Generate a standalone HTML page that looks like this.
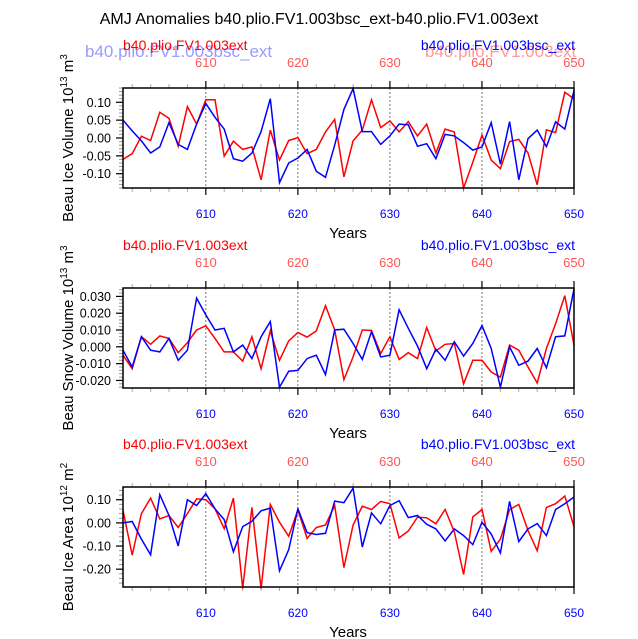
<!DOCTYPE html>
<html><head><meta charset="utf-8"><style>
html,body{margin:0;padding:0;background:#fff;}
svg{display:block;font-family:"Liberation Sans",Helvetica,Arial,sans-serif;}
</style></head><body>
<svg id="chart" width="638" height="639" viewBox="0 0 638 639" xmlns="http://www.w3.org/2000/svg">
<text x="319" y="24" text-anchor="middle" font-size="16">AMJ Anomalies b40.plio.FV1.003bsc_ext-b40.plio.FV1.003ext</text>
</svg>
<script>
const years = Array.from({length:50},(_,i)=>601+i);
const iceVolBlue=[0.05,0.02,-0.008,-0.042,-0.025,0.043,-0.018,-0.032,0.039,0.097,0.058,0.025,-0.058,-0.065,-0.042,0.018,0.11,-0.125,-0.07,-0.056,-0.032,-0.093,-0.11,-0.02,0.08,0.138,0.018,0.018,-0.018,0.006,0.039,0.037,-0.023,-0.016,-0.058,0.01,0.006,-0.013,-0.034,-0.025,0.043,-0.073,0.046,-0.117,-0.002,0.022,-0.024,0.045,0.025,0.133];
const iceVolRed=[-0.06,-0.044,0.005,-0.007,0.072,0.055,-0.023,0.088,0.039,0.107,0.107,-0.051,-0.009,-0.032,-0.025,-0.117,0.022,-0.062,-0.007,0.001,-0.044,-0.032,0.017,0.052,-0.109,-0.008,0.022,0.107,0.029,0.048,0.017,0.046,0.006,0.039,-0.042,0.025,0.017,-0.14,-0.068,0.008,-0.062,-0.086,-0.01,-0.004,-0.042,-0.131,0.023,0.015,0.128,0.11];
const snowBlue=[-0.002,-0.012,0.006,-0.002,-0.003,0.005,-0.008,-0.002,0.029,0.019,0.01,0.011,-0.003,0.001,-0.007,0.006,0.015,-0.024,-0.0145,-0.014,-0.007,-0.005,-0.0165,0.01,0.0105,0.002,-0.0075,0.009,-0.006,-0.005,0.022,0.011,0.0005,-0.013,-0.0015,-0.008,0.003,-0.0055,0.002,0.0127,-0.001,-0.024,0,-0.011,-0.0085,-0.001,-0.0125,0.006,0.0065,0.0345];
const snowRed=[-0.005,-0.013,0.006,0.0015,0.0065,0.005,-0.0035,0.0025,0.01,0.0125,0.005,-0.003,-0.003,-0.0085,0.006,-0.013,0.0095,-0.008,0.0035,0.0085,0.0058,0.0095,0.0245,0.01,-0.0195,-0.006,0.01,0.0097,-0.004,0.006,-0.0075,-0.0035,-0.007,0.0115,-0.0025,0.0015,0.002,-0.022,-0.008,-0.008,-0.015,-0.018,0.001,-0.002,-0.012,-0.0215,-0.001,0.0137,0.0305,0.001];
const areaBlue=[0,0.006,-0.07,-0.138,0.122,0.032,-0.1,0.1,0.075,0.126,0.061,0.014,-0.125,-0.016,0.007,0.052,0.064,-0.207,-0.116,0.061,-0.042,-0.05,-0.045,0.094,0.087,0.15,-0.104,0.043,-0.004,0.075,0.096,0.023,0.032,-0.006,-0.026,-0.078,-0.026,-0.055,-0.094,0.003,-0.048,-0.13,0.093,-0.081,-0.026,-0.003,-0.055,0.058,0.083,0.112];
const areaRed=[0.054,-0.139,0.04,0.107,0.017,0.032,-0.02,0.04,0.104,0.1,0.061,-0.025,0.107,-0.284,0.067,-0.284,0.08,0.003,-0.058,0.056,-0.067,-0.02,-0.009,0.075,-0.193,-0.009,0.072,0.058,0.093,0.083,-0.065,-0.035,0.025,0.022,-0.004,0.058,-0.038,-0.223,0.026,0.058,-0.123,-0.07,0.058,0.08,-0.033,-0.12,0.067,0.083,0.116,-0.016];
const xTicks=[610,620,630,640,650];
const iceVolTicks=["0.10","0.05","0.00","-0.05","-0.10"];
const snowTicks=["0.030","0.020","0.010","0.000","-0.010","-0.020"];
const areaTicks=["0.10","0.00","-0.10","-0.20"];

const svg=document.getElementById('chart');
const NS='http://www.w3.org/2000/svg';
function mk(tag,attrs,parent){const e=document.createElementNS(NS,tag);for(const k in attrs)e.setAttribute(k,attrs[k]);(parent||svg).appendChild(e);return e;}
const X0=123,X1=574,XMIN=601,XMAX=650;
const xs=v=>X0+(v-XMIN)/(XMAX-XMIN)*(X1-X0);

const panels=[
 {name:'ice-volume',top:88,bot:188,ymin:-0.14,ymax:0.14,ticks:iceVolTicks,minor:0.01,blue:iceVolBlue,red:iceVolRed,title:['Beau Ice Volume 10','13',' m','3'],ghost:true},
 {name:'snow-volume',top:288,bot:388,ymin:-0.0245,ymax:0.035,ticks:snowTicks,minor:0.002,blue:snowBlue,red:snowRed,title:['Beau Snow Volume 10','13',' m','3']},
 {name:'ice-area',top:487,bot:587,ymin:-0.277,ymax:0.155,ticks:areaTicks,minor:0.02,blue:areaBlue,red:areaRed,title:['Beau Ice Area 10','12',' m','2']}
];
panels.forEach(p=>{
 const g=mk('g',{});
 
 
 const ys=v=>p.bot-(v-p.ymin)/(p.ymax-p.ymin)*(p.bot-p.top);
 xTicks.slice(0,4).forEach(t=>{const l=mk('line',{x1:xs(t),x2:xs(t),y1:p.top,y2:p.bot,stroke:'#555','stroke-width':0.8,'stroke-dasharray':'2,2'},g);
  
  });
 for(let yr=602;yr<=650;yr+=2){const major=yr%10===0;const len=major?7:4;
  mk('line',{x1:xs(yr),x2:xs(yr),y1:p.top,y2:p.top-len,stroke:major?'#000':'#aaa','stroke-width':major?1.2:1},g);
  mk('line',{x1:xs(yr),x2:xs(yr),y1:p.bot,y2:p.bot+len,stroke:major?'#000':'#aaa','stroke-width':major?1.2:1},g);}
 xTicks.forEach(t=>{
  const a=mk('text',{x:xs(t),y:p.bot+30,'text-anchor':'middle','font-size':12,fill:'#0000ff'},g);a.textContent=t;
  
  
  const b=mk('text',{x:xs(t),y:p.top-21,'text-anchor':'middle','font-size':13,fill:'#ff5555'},g);b.textContent=t;
  
  });
 const nmin=Math.ceil(p.ymin/p.minor-1e-6),nmax=Math.floor(p.ymax/p.minor+1e-6);
 for(let n=nmin;n<=nmax;n++){const v=n*p.minor;const yy=ys(v);
  mk('line',{x1:X0,x2:X0-4,y1:yy,y2:yy,stroke:'#999','stroke-width':1},g);}
 p.ticks.forEach(t=>{const v=parseFloat(t);const yy=ys(v);
  mk('line',{x1:X0,x2:X0-7,y1:yy,y2:yy,stroke:'#000','stroke-width':1.2},g);
  const tx=mk('text',{x:X0-12,y:yy+4.5,'text-anchor':'end','font-size':12.5},g);tx.textContent=t;
  
  });
 [['red',p.red,'#ff0000'],['blue',p.blue,'#0000ff']].forEach(([nm,arr,c])=>{
  const d=arr.map((v,i)=>(i?'L':'M')+xs(years[i]).toFixed(1)+','+ys(v).toFixed(1)).join('');
  const pa=mk('path',{d:d,fill:'none',stroke:c,'stroke-width':1.5},g);
  
  });
 const fr=mk('rect',{x:X0,y:p.top,width:X1-X0,height:p.bot-p.top,fill:'none',stroke:'#000','stroke-width':1.5},g);
 
 
 if(p.ghost){
  const gb=mk('text',{x:85,y:57,'font-size':17,fill:'#9a9aff'},g);gb.textContent='b40.plio.FV1.003bsc_ext';
  
  
  const gr=mk('text',{x:425,y:57,'font-size':17,fill:'#ff9a9a'},g);gr.textContent='b40.plio.FV1.003ext';
  
  
 }
 const lr=mk('text',{x:X0,y:p.top-38,'font-size':14,fill:'#ff0000'},g);lr.textContent='b40.plio.FV1.003ext';
 
 
 const lb=mk('text',{x:X1+1,y:p.top-38,'text-anchor':'end','font-size':14,fill:'#0000ff'},g);lb.textContent='b40.plio.FV1.003bsc_ext';
 
 
 const yl=mk('text',{x:348,y:p.bot+50,'text-anchor':'middle','font-size':15},g);yl.textContent='Years';
 
 
 const cy=(p.top+p.bot)/2;
 const yt=mk('text',{x:0,y:0,'text-anchor':'middle','font-size':15,transform:`translate(73,${cy}) rotate(-90)`},g);
 
 
 p.title.forEach((s,i)=>{const ts=mk('tspan',{},yt);ts.textContent=s;
  if(i%2===1){ts.setAttribute('font-size','10');ts.setAttribute('dy','-6');}
  else if(i>0){ts.setAttribute('dy','6');}});
});
</script>
</body></html>
